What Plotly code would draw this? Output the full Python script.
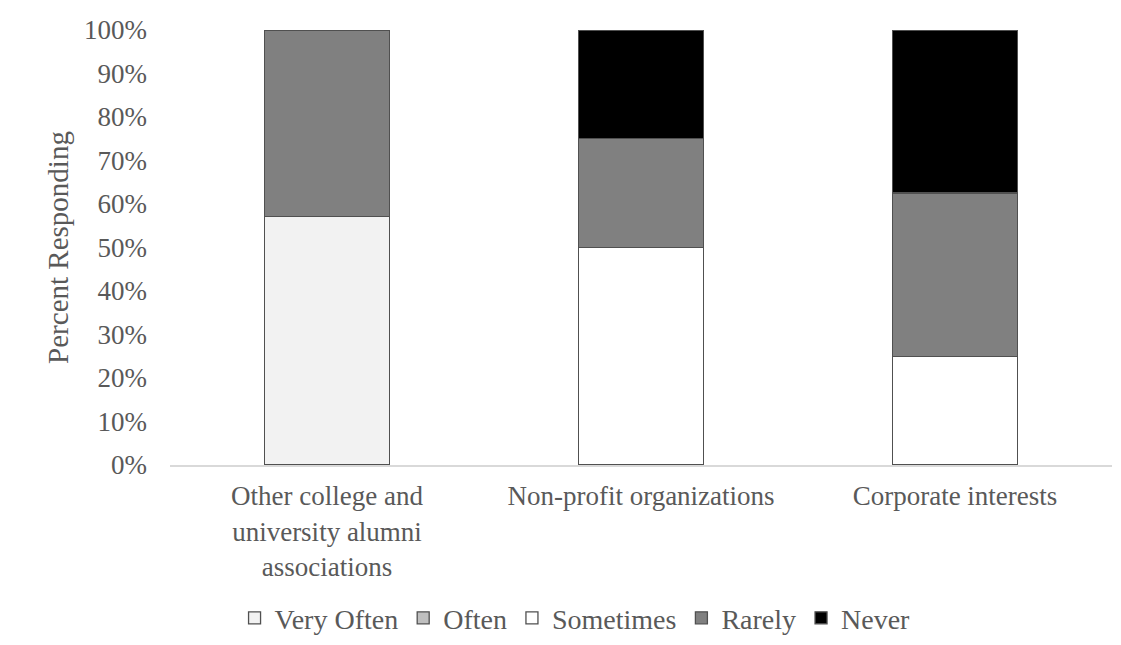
import plotly.graph_objects as go

categories = [
    "Other college and<br>university alumni<br>associations",
    "Non-profit organizations",
    "Corporate interests",
]
series_names = ["Very Often", "Often", "Sometimes", "Rarely", "Never"]
very_often = [0.571, None, None]
often = [None, None, None]
sometimes = [None, 0.50, 0.25]
rarely = [0.429, 0.25, 0.375]
never = [None, 0.25, 0.375]
colors = ["#f2f2f2", "#bfbfbf", "#ffffff", "#808080", "#000000"]
y_ticks = [i / 10 for i in range(11)]

values = [very_often, often, sometimes, rarely, never]
text_color = "#595959"
font_family = "Liberation Serif, Times New Roman, serif"

fig = go.Figure()
for name, vals, col in zip(series_names, values, colors):
    fig.add_trace(go.Bar(
        x=categories, y=vals, name=name,
        marker=dict(color=col, line=dict(color="#505050", width=1.3)),
        width=0.4,
    ))

fig.update_layout(
    barmode="stack",
    width=1121, height=645,
    margin=dict(l=170, r=9, t=30, b=180, autoexpand=False),
    plot_bgcolor="white", paper_bgcolor="white",
    font=dict(family=font_family, size=27, color=text_color),
    legend=dict(
        orientation="h", x=0.43, xanchor="center", y=-0.352, yanchor="middle",
        font=dict(size=28, color=text_color), traceorder="normal",
        itemwidth=30,
    ),
    showlegend=True,
)
fig.update_yaxes(
    range=[0, 1], tickvals=y_ticks, tickformat=".0%", automargin=False,
    showgrid=False, zeroline=False, showline=False,
    ticks="", ticklabelstandoff=22, tickfont=dict(size=27, color=text_color),
    title=dict(text="Percent Responding", font=dict(size=29, color=text_color), standoff=6),
)
fig.update_xaxes(
    showline=True, linecolor="#d9d9d9", linewidth=2, automargin=False,
    showgrid=False, ticks="", ticklabelstandoff=6,
    tickfont=dict(size=27, color=text_color),
)

fig.write_html("out.html")
